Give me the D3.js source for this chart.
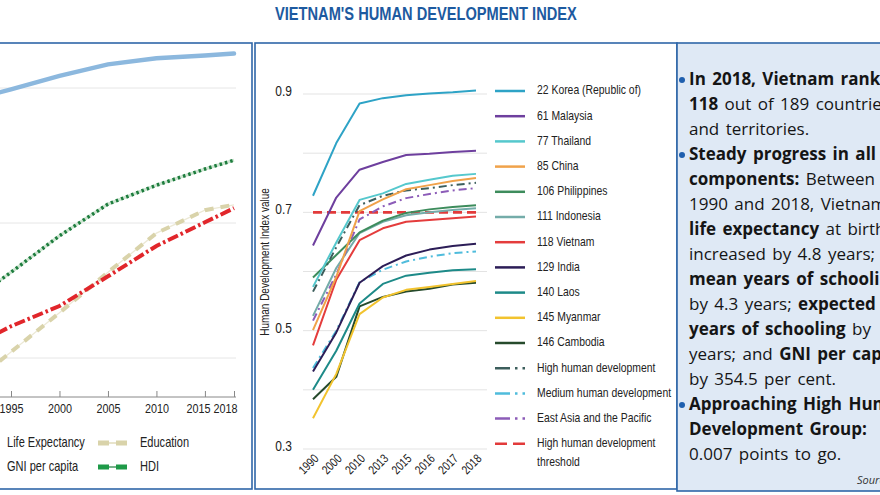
<!DOCTYPE html>
<html><head><meta charset="utf-8">
<script src="https://cdn.jsdelivr.net/npm/d3@7"></script>
<style>
body{margin:0;background:#fff;overflow:hidden}
svg{display:block}
</style></head><body><svg id="c" width="880" height="495"></svg>
<script>
// ---------- DATA ----------
const compYears = [1990, 1995, 2000, 2005, 2010, 2015, 2018];
const compTicks = [1995, 2000, 2005, 2010, 2015, 2018];
const lifeExpectancy = [0.779, 0.798, 0.818, 0.835, 0.844, 0.848, 0.851];
const education      = [0.350, 0.409, 0.467, 0.527, 0.585, 0.619, 0.627];
const gniPerCapita   = [0.410, 0.447, 0.477, 0.521, 0.566, 0.601, 0.622];
const hdiVietnam     = [0.475, 0.527, 0.581, 0.628, 0.656, 0.680, 0.693];
const compGrid = [0.4, 0.6, 0.8];
const compLegend = ["Life Expectancy", "Education", "GNI per capita", "HDI"];

const hdiYears = ["1990", "2000", "2010", "2013", "2015", "2016", "2017", "2018"];
const korea       = [0.728, 0.817, 0.884, 0.893, 0.898, 0.901, 0.903, 0.906];
const malaysia    = [0.644, 0.725, 0.772, 0.785, 0.797, 0.799, 0.802, 0.804];
const thailand    = [0.574, 0.649, 0.721, 0.732, 0.748, 0.755, 0.762, 0.765];
const china       = [0.501, 0.591, 0.702, 0.722, 0.739, 0.746, 0.753, 0.758];
const philippines = [0.590, 0.628, 0.666, 0.686, 0.699, 0.705, 0.709, 0.712];
const indonesia   = [0.525, 0.606, 0.665, 0.684, 0.695, 0.700, 0.704, 0.707];
const vietnam     = [0.475, 0.586, 0.653, 0.673, 0.684, 0.687, 0.690, 0.693];
const india       = [0.431, 0.497, 0.581, 0.609, 0.627, 0.637, 0.643, 0.647];
const laos        = [0.400, 0.466, 0.546, 0.579, 0.593, 0.598, 0.602, 0.604];
const myanmar     = [0.352, 0.427, 0.528, 0.556, 0.569, 0.574, 0.579, 0.584];
const cambodia    = [0.384, 0.422, 0.541, 0.557, 0.566, 0.571, 0.578, 0.581];
const highHD      = [0.566, 0.641, 0.712, 0.728, 0.737, 0.741, 0.746, 0.750];
const mediumHD    = [0.437, 0.500, 0.582, 0.603, 0.617, 0.625, 0.631, 0.634];
const eastAsia    = [0.517, 0.595, 0.688, 0.710, 0.724, 0.731, 0.737, 0.741];
const threshold   = [0.700, 0.700, 0.700, 0.700, 0.700, 0.700, 0.700, 0.700];
const hdiGrid   = [0.3, 0.4, 0.5, 0.6, 0.7, 0.8, 0.9];
const hdiLabels = [0.3, 0.5, 0.7, 0.9];

const seriesNames = ["22 Korea (Republic of)", "61 Malaysia", "77 Thailand", "85 China",
  "106 Philippines", "111 Indonesia", "118 Vietnam", "129 India", "140 Laos", "145 Myanmar",
  "146 Cambodia", "High human development", "Medium human development",
  "East Asia and the Pacific", "High human development|threshold"];
const seriesValues = [korea, malaysia, thailand, china, philippines, indonesia, vietnam, india,
  laos, myanmar, cambodia, highHD, mediumHD, eastAsia, threshold];

// ---------- STYLES ----------
const NARROW = '"Liberation Sans",Arial,sans-serif';
const SX = 0.8; // horizontal condensing to mimic a condensed face
const BLUE = "#2f66a8";
const seriesColors = ["#2ea3c6", "#6e3f9e", "#55c8cd", "#f0a24a", "#3d8c5c", "#74aca9", "#e43c3c",
  "#2c1d57", "#1d8a88", "#f2c32e", "#264a2c", "#3c5e5c", "#4fbcdc", "#8c5cb8", "#e23a3a"];
const seriesKind = ["s","s","s","s","s","s","s","s","s","s","s","dd","dd","dd","d"];

const svg = d3.select("#c");
svg.append("rect").attr("width", 880).attr("height", 495).attr("fill", "#fff");

function ntext(g, x, y, str, size, rot) {
  return g.append("text")
    .attr("transform", `translate(${x},${y})${rot ? ` rotate(${rot})` : ""} scale(${SX},1)`)
    .attr("font-family", NARROW).attr("font-size", size).attr("fill", "#222")
    .attr("dominant-baseline", "middle").text(str);
}

// Title
ntext(svg, 275, 15, "VIETNAM'S HUMAN DEVELOPMENT INDEX", 18.3)
  .attr("font-weight", "bold").attr("fill", "#1d5aa0");

// Panels
svg.append("rect").attr("x", -10).attr("y", 43).attr("width", 262).attr("height", 446)
  .attr("fill", "#fff").attr("stroke", BLUE).attr("stroke-width", 1.6);
svg.append("rect").attr("x", 255).attr("y", 43).attr("width", 422).attr("height", 446)
  .attr("fill", "#fff").attr("stroke", BLUE).attr("stroke-width", 1.6);
svg.append("rect").attr("x", 677).attr("y", 43).attr("width", 220).attr("height", 448)
  .attr("fill", "#dfe9f5").attr("stroke", BLUE).attr("stroke-width", 1.6);

// ---------- LEFT CHART ----------
const lx = d3.scaleLinear().domain([1995, 2018]).range([11, 234]);
const ly = d3.scaleLinear().domain([0.4, 0.8]).range([358, 88]);
const left = svg.append("g");
left.selectAll(".g").data(compGrid).join("line")
  .attr("x1", 0).attr("x2", 236).attr("y1", d => ly(d)).attr("y2", d => ly(d))
  .attr("stroke", "#e6e6e6").attr("stroke-width", 1);

const lAxis = left.append("g").attr("transform", "translate(0,397)")
  .call(d3.axisBottom(lx).tickValues(compTicks).tickFormat(d3.format("d")).tickSize(-6).tickPadding(5));
lAxis.select(".domain").attr("d", "M0,0H236").attr("stroke", "#888");
lAxis.selectAll(".tick line").attr("stroke", "#888");
lAxis.selectAll("text").attr("font-family", NARROW).attr("font-size", 13.5).attr("fill", "#222")
  .attr("dy", "0.85em").attr("transform", `scale(${SX},1)`);
lAxis.selectAll(".tick").filter(d => d === 2015).select("text").attr("dx", -7 / SX);
lAxis.selectAll(".tick").filter(d => d === 2018).select("text").attr("dx", -9 / SX);

const lline = vals => d3.line().x((d, i) => lx(compYears[i])).y(d => ly(d))(vals);
// Education
left.append("path").attr("d", lline(education)).attr("fill", "none")
  .attr("stroke", "#ece9d6").attr("stroke-width", 1.3);
left.append("path").attr("d", lline(education)).attr("fill", "none")
  .attr("stroke", "#d9d3aa").attr("stroke-width", 4).attr("stroke-dasharray", "9,7");
// GNI
left.append("path").attr("d", lline(gniPerCapita)).attr("fill", "none")
  .attr("stroke", "#e1262b").attr("stroke-width", 4).attr("stroke-dasharray", "11,3,2.5,3");
// HDI
left.append("path").attr("d", lline(hdiVietnam)).attr("fill", "none")
  .attr("stroke", "#cde5d1").attr("stroke-width", 3);
left.append("path").attr("d", lline(hdiVietnam)).attr("fill", "none")
  .attr("stroke", "#1e7d3e").attr("stroke-width", 3.5).attr("stroke-dasharray", "2.5,3");
// Life expectancy
left.append("path").attr("d", lline(lifeExpectancy)).attr("fill", "none")
  .attr("stroke", "#8cb8de").attr("stroke-width", 4.5).attr("stroke-linecap", "round");

// Left legend
const lLegendPos = [{x: 7, y: 443}, {x: 140, y: 443}, {x: 7, y: 467}, {x: 140, y: 467}];
const lLegendMark = [
  {color: "#8cb8de", thin: "#8cb8de"}, {color: "#d9d3aa", thin: "#d9d3aa"},
  {color: "#e1262b", thin: "#e1262b"}, {color: "#1e9a48", thin: "#1e7d3e"}];
compLegend.forEach((name, i) => {
  const p = lLegendPos[i], m = lLegendMark[i];
  ntext(left, p.x, p.y, name, 13.8);
  left.append("line").attr("x1", p.x - 42).attr("x2", p.x - 13).attr("y1", p.y).attr("y2", p.y)
    .attr("stroke", m.thin).attr("stroke-width", 1.2);
  left.append("line").attr("x1", p.x - 42).attr("x2", p.x - 13).attr("y1", p.y).attr("y2", p.y)
    .attr("stroke", m.color).attr("stroke-width", 5).attr("stroke-dasharray", "11,7,11");
});

// ---------- MIDDLE CHART ----------
const mx = d3.scalePoint().domain(hdiYears).range([313, 476]);
const my = d3.scaleLinear().domain([0.3, 0.9]).range([449, 94]);
const mid = svg.append("g");
mid.selectAll(".mg").data(hdiGrid).join("line")
  .attr("x1", 303).attr("x2", 487).attr("y1", d => my(d)).attr("y2", d => my(d))
  .attr("stroke", "#e3e3e3").attr("stroke-width", 1);
hdiLabels.forEach(v => ntext(mid, 292, my(v) - 2, d3.format(".1f")(v), 15).attr("text-anchor", "end"));
hdiYears.forEach(yr => ntext(mid, mx(yr) + 4, 457, yr, 12.5, -45).attr("text-anchor", "end"));
ntext(mid, 266, 262, "Human Development Index value", 12.5, -90).attr("text-anchor", "middle");

const mline = d3.line().x((d, i) => mx(hdiYears[i])).y(d => my(d));
const dashFor = k => k === "dd" ? "8,4,2,4" : (k === "d" ? "9,5" : null);
const drawOrder = [14, 10, 9, 8, 12, 7, 6, 5, 4, 13, 11, 3, 2, 1, 0];
drawOrder.forEach(i => {
  mid.append("path").attr("d", mline(seriesValues[i])).attr("fill", "none")
    .attr("stroke", seriesColors[i]).attr("stroke-width", i === 14 ? 2.6 : 2)
    .attr("stroke-dasharray", dashFor(seriesKind[i])).attr("stroke-linejoin", "round");
});

// Middle legend
seriesNames.forEach((n, i) => {
  const y = 91 + i * 25.2;
  const k = seriesKind[i];
  mid.append("line").attr("x1", 495).attr("x2", 525).attr("y1", y).attr("y2", y)
    .attr("stroke", seriesColors[i]).attr("stroke-width", 2.5)
    .attr("stroke-dasharray", k === "dd" ? "15,5,2.5,5,2.5,20" : (k === "d" ? "12,6,12,20" : null));
  const parts = n.split("|");
  const t = ntext(mid, 537, y, "", 13);
  parts.forEach((p, j) => t.append("tspan").attr("x", 0).attr("dy", j === 0 ? 0 : 19).text(p));
});

// ---------- RIGHT TEXT ----------
const textLines = [
  [["In 2018, Vietnam ranked", 1]],
  [["118", 1], [" out of 189 countries", 0]],
  [["and territories.", 0]],
  [["Steady progress in all", 1]],
  [["components:", 1], [" Between", 0]],
  [["1990 and 2018, Vietnam's", 0]],
  [["life expectancy", 1], [" at birth", 0]],
  [["increased by 4.8 years;", 0]],
  [["mean years of schooling", 1]],
  [["by 4.3 years; ", 0], ["expected", 1]],
  [["years of schooling", 1], [" by", 0]],
  [["years; and ", 0], ["GNI per capita", 1]],
  [["by 354.5 per cent.", 0]],
  [["Approaching High Human", 1]],
  [["Development Group:", 1]],
  [["0.007 points to go.", 0]]
];
const bulletLines = [0, 3, 13];
const right = svg.append("g");
textLines.forEach((segs, i) => {
  const y = 80 + i * 25;
  const t = right.append("text").attr("x", 689).attr("y", y).attr("dominant-baseline", "middle")
    .attr("font-family", '"Open Sans",sans-serif').attr("font-size", 17).attr("fill", "#151515")
    .style("word-spacing", "2px");
  segs.forEach(s => t.append("tspan").attr("font-weight", s[1] ? 700 : 400).text(s[0]));
  if (bulletLines.includes(i)) {
    right.append("circle").attr("cx", 682).attr("cy", y).attr("r", 3).attr("fill", "#1f5fae");
  }
});
right.append("text").attr("x", 857).attr("y", 481).attr("dominant-baseline", "middle")
  .attr("font-family", '"Open Sans",sans-serif').attr("font-style", "italic").attr("font-size", 11)
  .attr("fill", "#333").text("Source: UNDP");
</script></body></html>
